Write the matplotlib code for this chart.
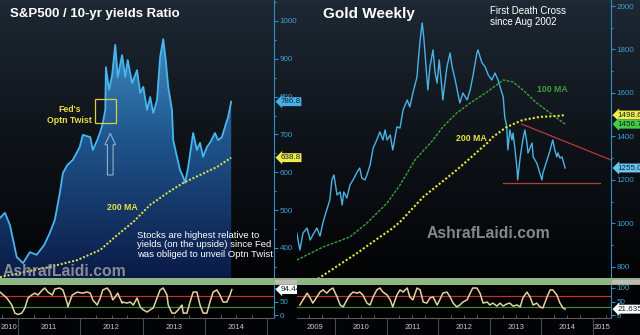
import numpy as np
import matplotlib
matplotlib.use("Agg")
import matplotlib.pyplot as plt
from matplotlib.colors import LinearSegmentedColormap
from matplotlib.patches import Rectangle, FancyArrow
from matplotlib.transforms import blended_transform_factory

plt.rcParams['font.family'] = ['Liberation Sans', 'DejaVu Sans']

# S&P500 / 10-yr yield ratio (fractional years)
ratio_t = [2010.71, 2010.79, 2010.87, 2010.98, 2011.08, 2011.19, 2011.30, 2011.42, 2011.51, 2011.59,
           2011.67, 2011.72, 2011.79, 2011.88, 2011.99, 2012.04, 2012.16, 2012.20, 2012.27, 2012.32,
           2012.36, 2012.40, 2012.41, 2012.46, 2012.51, 2012.56, 2012.60, 2012.67, 2012.72, 2012.76,
           2012.83, 2012.91, 2012.96, 2013.01, 2013.07, 2013.12, 2013.17, 2013.23, 2013.28, 2013.33,
           2013.37, 2013.41, 2013.47, 2013.49, 2013.55, 2013.60, 2013.65, 2013.68, 2013.73, 2013.81,
           2013.87, 2013.92, 2013.97, 2014.03, 2014.08, 2014.16, 2014.21, 2014.27, 2014.32, 2014.37,
           2014.42]
ratio_v = [479, 493, 461, 376, 360, 389, 382, 408, 440, 474,
           545, 598, 619, 633, 667, 699, 693, 659, 685, 707,
           730, 765, 878, 818, 857, 937, 852, 910, 852, 897,
           836, 870, 810, 826, 765, 799, 757, 791, 905, 952,
           897, 826, 765, 685, 641, 606, 588, 572, 614, 704,
           659, 678, 641, 667, 678, 704, 685, 693, 720, 746,
           786.8]
ratio_ma_t = [2010.71, 2011.03, 2011.51, 2011.95, 2012.32, 2012.59, 2012.85, 2013.12, 2013.39,
              2013.65, 2013.92, 2014.19, 2014.42]
ratio_ma_v = [323, 334, 350, 368, 395, 434, 469, 514, 545, 572, 593, 614, 638.8]

ratio_osc_t = [2010.71, 2010.82, 2010.90, 2010.95, 2011.00, 2011.06, 2011.11, 2011.16, 2011.22, 2011.27,
               2011.32, 2011.39, 2011.43, 2011.48, 2011.55, 2011.59, 2011.67, 2011.72, 2011.79, 2011.80,
               2011.87, 2011.95, 2012.03, 2012.11, 2012.16, 2012.20, 2012.27, 2012.32, 2012.36, 2012.43,
               2012.48, 2012.52, 2012.56, 2012.60, 2012.67, 2012.68, 2012.75, 2012.80, 2012.85, 2012.91,
               2012.96, 2013.01, 2013.07, 2013.12, 2013.17, 2013.23, 2013.28, 2013.33, 2013.39, 2013.41,
               2013.47, 2013.52, 2013.57, 2013.63, 2013.65, 2013.71, 2013.76, 2013.81, 2013.87, 2013.92,
               2013.97, 2014.03, 2014.08, 2014.13, 2014.19, 2014.24, 2014.29, 2014.35, 2014.40, 2014.43]
ratio_osc_v = [85, 63, 37, 7, 2, 7, 26, 63, 74, 81,
               74, 93, 100, 85, 74, 96, 100, 93, 44, 30,
               74, 85, 81, 85, 81, 56, 37, 63, 93, 100,
               85, 56, 67, 81, 44, 48, 44, 48, 37, 63,
               30, 19, 11, 19, 26, 63, 93, 100, 74, 37,
               7, 7, 19, 37, 7, 7, 48, 85, 85, 37,
               7, 7, 48, 85, 93, 74, 48, 48, 74, 94.44]

# Gold weekly close
gold_t = [2009.26, 2009.32, 2009.38, 2009.46, 2009.52, 2009.57, 2009.65, 2009.71, 2009.77, 2009.84,
          2009.90, 2009.94, 2009.98, 2010.04, 2010.10, 2010.14, 2010.17, 2010.23, 2010.29, 2010.35,
          2010.43, 2010.48, 2010.52, 2010.58, 2010.62, 2010.68, 2010.74, 2010.81, 2010.87, 2010.93,
          2010.97, 2011.01, 2011.07, 2011.12, 2011.20, 2011.26, 2011.32, 2011.40, 2011.45, 2011.51,
          2011.59, 2011.61, 2011.65, 2011.69, 2011.72, 2011.78, 2011.80, 2011.84, 2011.90, 2011.94,
          2011.98, 2012.02, 2012.07, 2012.09, 2012.13, 2012.17, 2012.23, 2012.27, 2012.33, 2012.38,
          2012.42, 2012.48, 2012.56, 2012.62, 2012.67, 2012.75, 2012.77, 2012.85, 2012.91, 2012.97,
          2013.04, 2013.10, 2013.16, 2013.20, 2013.26, 2013.29, 2013.33, 2013.35, 2013.39, 2013.43,
          2013.45, 2013.49, 2013.53, 2013.54, 2013.59, 2013.64, 2013.68, 2013.72, 2013.74, 2013.82,
          2013.84, 2013.91, 2013.97, 2014.01, 2014.03, 2014.11, 2014.17, 2014.22, 2014.26, 2014.30,
          2014.32, 2014.36, 2014.40, 2014.46]
gold_v = [956, 878, 956, 979, 924, 947, 979, 942, 1007, 1062,
          1108, 1200, 1223, 1131, 1145, 1085, 1145, 1117, 1177, 1200,
          1237, 1255, 1209, 1200, 1223, 1269, 1347, 1384, 1421, 1384,
          1430, 1384, 1407, 1338, 1444, 1439, 1522, 1568, 1536, 1600,
          1674, 1738, 1844, 1922, 1857, 1674, 1614, 1720, 1798, 1692,
          1646, 1752, 1628, 1568, 1646, 1720, 1784, 1720, 1660, 1600,
          1554, 1600, 1568, 1614, 1674, 1784, 1798, 1738, 1720, 1683,
          1660, 1692, 1660, 1628, 1582, 1490, 1444, 1338, 1430, 1384,
          1416, 1338, 1246, 1200, 1306, 1384, 1430, 1370, 1324, 1370,
          1306, 1278, 1232, 1200, 1232, 1292, 1338, 1384, 1338, 1306,
          1324, 1301, 1306, 1255.04]
gold_ma100_t = [2009.26, 2009.77, 2010.29, 2010.62, 2011.01, 2011.26, 2011.55, 2011.90, 2012.09,
                2012.36, 2012.62, 2012.95, 2013.26, 2013.45, 2013.64, 2013.91, 2014.17, 2014.46]
gold_ma100_v = [832, 892, 938, 1002, 1094, 1177, 1292, 1384, 1444,
                1508, 1554, 1605, 1660, 1651, 1614, 1554, 1508, 1456.7]
gold_ma200_t = [2009.60, 2010.43, 2010.87, 2011.07, 2011.26, 2011.71, 2012.36, 2012.95, 2013.06,
                2013.33, 2013.64, 2013.97, 2014.30, 2014.46]
gold_ma200_v = [735, 864, 938, 970, 1007, 1122, 1246, 1370, 1398, 1444, 1476, 1490, 1494, 1498.6]
trend_t = [2013.62, 2015.35]
trend_v = [1457, 1292]
support_t = [2013.26, 2015.14]
support_v = [1186, 1186]

gold_osc_t = [2009.32, 2009.38, 2009.46, 2009.52, 2009.57, 2009.65, 2009.71, 2009.77, 2009.84, 2009.90,
              2009.96, 2010.04, 2010.10, 2010.16, 2010.23, 2010.29, 2010.35, 2010.43, 2010.48, 2010.54,
              2010.62, 2010.68, 2010.74, 2010.81, 2010.87, 2010.93, 2011.01, 2011.07, 2011.12, 2011.20,
              2011.26, 2011.32, 2011.40, 2011.45, 2011.51, 2011.59, 2011.65, 2011.71, 2011.78, 2011.84,
              2011.90, 2011.98, 2012.03, 2012.09, 2012.17, 2012.23, 2012.29, 2012.36, 2012.42, 2012.48,
              2012.56, 2012.62, 2012.67, 2012.75, 2012.81, 2012.87, 2012.95, 2013.00, 2013.06, 2013.14,
              2013.20, 2013.26, 2013.33, 2013.39, 2013.45, 2013.53, 2013.59, 2013.64, 2013.72, 2013.78,
              2013.84, 2013.91, 2013.97, 2014.03, 2014.11, 2014.17, 2014.22, 2014.30, 2014.36, 2014.42,
              2014.46]
gold_osc_v = [37, 56, 81, 63, 44, 67, 85, 93, 81, 93,
              100, 67, 37, 30, 56, 74, 85, 81, 85, 74,
              44, 37, 67, 93, 100, 85, 74, 56, 30, 74,
              93, 85, 100, 67, 56, 100, 93, 48, 44, 63,
              67, 37, 56, 81, 85, 67, 44, 30, 37, 48,
              56, 81, 100, 100, 81, 44, 48, 37, 44, 33,
              44, 33, 41, 44, 33, 37, 30, 63, 85, 67,
              37, 44, 30, 26, 67, 93, 93, 74, 44, 26,
              21.6353]

left_years = ['2010', '2011', '2012', '2013', '2014']
left_year_pos = [2010.85, 2011.5, 2012.5, 2013.5, 2014.5]
right_years = ['2009', '2010', '2011', '2012', '2013', '2014', '2015']
right_year_pos = [2009.61, 2010.5, 2011.5, 2012.5, 2013.5, 2014.5, 2015.17]

W, H = 640, 335
AXIS_BLUE = '#2d8fc4'
TICK_BLUE = '#3d9fd3'


def rect(x0, y0, x1, y1):
    return [x0 / W, 1 - y1 / H, (x1 - x0) / W, (y1 - y0) / H]


fig = plt.figure(figsize=(6.4, 3.35), dpi=100, facecolor='black')

# dark slate-to-black backdrop
bg = fig.add_axes([0, 0, 1, 1], zorder=-10)
rows = np.clip(np.arange(H) / 278.0, 0, 1) ** 0.8
top = np.array([0x1f, 0x2a, 0x36]) / 255
bot = np.array([0.01, 0.012, 0.018])
grad = (top[None, :] * (1 - rows[:, None]) + bot[None, :] * rows[:, None])[:, None, :]
bg.imshow(grad, extent=[0, 1, 0, 1], aspect='auto')
bg.axis('off')


def style_main(ax, yticks, yminor, ylim, xlim):
    ax.set_facecolor('none')
    for s in ['left', 'top', 'bottom']:
        ax.spines[s].set_visible(False)
    ax.spines['right'].set_color(AXIS_BLUE)
    ax.yaxis.tick_right()
    ax.set_yticks(yticks)
    ax.set_yticks(yminor, minor=True)
    ax.tick_params(axis='y', which='both', direction='out', length=3, width=0.8,
                   color=AXIS_BLUE, labelcolor=TICK_BLUE, labelsize=5.8, pad=1)
    ax.tick_params(axis='y', which='minor', length=1.5)
    ax.set_xticks([])
    ax.set_xlim(*xlim)
    ax.set_ylim(*ylim)


def style_osc(ax, xlim, year_lo, year_hi, labels, label_pos):
    ax.set_facecolor('black')
    ax.spines['left'].set_visible(False)
    ax.spines['top'].set_visible(False)
    ax.spines['right'].set_color(AXIS_BLUE)
    ax.spines['bottom'].set_color('#5a5a5a')
    ax.yaxis.tick_right()
    ax.set_yticks([0, 50, 100])
    ax.tick_params(axis='y', direction='out', length=3, width=0.8, color=AXIS_BLUE,
                   labelcolor=TICK_BLUE, labelsize=5.8, pad=1)
    ax.set_xticks(np.arange(year_lo, year_hi + 1))
    ax.set_xticks(np.arange(year_lo - 1, year_hi + 1, 0.25), minor=True)
    ax.tick_params(axis='x', which='major', direction='out', length=12, width=0.8,
                   color='#4a4a4a', labelbottom=False)
    ax.tick_params(axis='x', which='minor', direction='in', length=2, width=0.6, color='#707070')
    ax.set_xlim(*xlim)
    ax.set_ylim(-11.1, 111.1)
    tr = blended_transform_factory(ax.transData, ax.transAxes)
    for lab, pos in zip(labels, label_pos):
        ax.text(pos, -0.30, lab, transform=tr, ha='center', va='center',
                fontsize=5.5, color='#c8c8c8', clip_on=False)
    ax.axhline(70, color='#c03030', lw=0.9)
    ax.axhline(30, color='#3a8a3a', lw=0.9)


def tag(ax, y, s, fc, tc='#102030'):
    tr = blended_transform_factory(ax.transAxes, ax.transData)
    ax.annotate(s, xy=(1, y), xycoords=tr, xytext=(4.5, 0), textcoords='offset points',
                ha='left', va='center', fontsize=5.8, color=tc, zorder=6, annotation_clip=False,
                bbox=dict(boxstyle='larrow,pad=0.12', fc=fc, ec='none'))


# ---- left: S&P500 / 10-yr yields ratio ----
xl = (2010.711, 2015.107)
yl = (320.7, 1055.5)
ax1 = fig.add_axes(rect(0, 0, 274, 278))
fill = ax1.fill_between(ratio_t, ratio_v, yl[0], color='none', lw=0)
blues = LinearSegmentedColormap.from_list('ratio_fill', ['#0a1a46', '#1f558c', '#4a9fd6'])
im = ax1.imshow(np.linspace(1, 0, 256).reshape(-1, 1), extent=[xl[0], xl[1], yl[0], yl[1]],
                aspect='auto', cmap=blues, zorder=1)
im.set_clip_path(fill.get_paths()[0], transform=ax1.transData)
ax1.plot(ratio_t, ratio_v, color='#47b6ee', lw=1.3, zorder=3)
ax1.plot(ratio_ma_t, ratio_ma_v, color='#e6e64a', lw=1.4, ls=(0, (1, 1)), zorder=3)
style_main(ax1, [400, 500, 600, 700, 800, 900, 1000], np.arange(350, 1051, 50), yl, xl)

ax1.text(0.036, 0.95, 'S&P500 / 10-yr yields Ratio', transform=ax1.transAxes, color='white',
         fontsize=9.5, fontweight='bold', ha='left', va='center')
ax1.add_patch(Rectangle((2012.24, 730), 0.33, 64, fill=False, ec='#d8d040', lw=0.9, zorder=4))
ax1.text(2011.83, 752, "Fed's\nOptn Twist", color='#e8e040', fontsize=6.3, fontweight='bold',
         ha='center', va='center', linespacing=1.3, zorder=4)
ax1.add_patch(FancyArrow(2012.48, 593, 0, 80, width=0.09, head_width=0.17, head_length=30,
                         length_includes_head=False, fill=False, ec='#8fb2cc', lw=0.8, zorder=4))
ax1.text(2012.68, 506, '200 MA', color='#e8e040', fontsize=6.3, fontweight='bold',
         ha='center', va='center', zorder=4)
ax1.text(2012.91, 408, 'Stocks are highest relative to\nyields (on the upside) since Fed\n'
         'was obliged to unveil Optn Twist', color='white', fontsize=6.8, ha='left', va='center',
         linespacing=1.12, zorder=4)
ax1.text(2011.74, 339, 'AshrafLaidi.com', color='#a8a8a8', alpha=0.8, fontsize=11.3,
         fontweight='bold', ha='center', va='center', zorder=4)
tag(ax1, 786.8, '786.8', '#49b1e6')
tag(ax1, 638.8, '638.8', '#f0ec48')

ax1i = fig.add_axes(rect(0, 285, 274, 318))
ax1i.plot(ratio_osc_t, ratio_osc_v, color='#e6d2a0', lw=1.1, zorder=3)
style_osc(ax1i, xl, 2011, 2015, left_years, left_year_pos)
tag(ax1i, 94.44, '94.44', 'white')

# ---- right: gold weekly ----
xr = (2009.264, 2015.349)
yr = (749.3, 2027.6)
ax2 = fig.add_axes(rect(297, 0, 611, 278))
ax2.plot(gold_t, gold_v, color='#49b3e6', lw=1.0, zorder=3)
ax2.plot(gold_ma100_t, gold_ma100_v, color='#3fa03f', lw=1.0, ls=(0, (2, 1)), zorder=3)
ax2.plot(gold_ma200_t, gold_ma200_v, color='#e6e63c', lw=1.5, ls=(0, (1, 1)), zorder=3)
ax2.plot(trend_t, trend_v, color='#b83a3a', lw=0.9, zorder=2)
ax2.plot(support_t, support_v, color='#b83a3a', lw=0.9, zorder=2)
style_main(ax2, np.arange(800, 2001, 200), np.arange(800, 2001, 100), yr, xr)

ax2.text(0.083, 0.95, 'Gold Weekly', transform=ax2.transAxes, color='white', fontsize=11,
         fontweight='bold', ha='left', va='center')
ax2.text(0.615, 0.942, 'First Death Cross\nsince Aug 2002', transform=ax2.transAxes,
         color='white', fontsize=7, ha='left', va='center', linespacing=1.15)
ax2.text(2014.22, 1614, '100 MA', color='#3aa03a', fontsize=6.3, fontweight='bold',
         ha='center', va='center', zorder=4)
ax2.text(2012.65, 1393, '200 MA', color='#e8e040', fontsize=6.3, fontweight='bold',
         ha='center', va='center', zorder=4)
ax2.text(2012.97, 956, 'AshrafLaidi.com', color='#a8a8a8', alpha=0.8, fontsize=11.3,
         fontweight='bold', ha='center', va='center', zorder=4)
tag(ax2, 1498.6, '1498.60', '#f0ec48')
tag(ax2, 1456.7, '1456.70', '#44cc44')
tag(ax2, 1255.04, '1255.04', '#6cc4ee')

ax2i = fig.add_axes(rect(297, 285, 611, 318))
ax2i.plot(gold_osc_t, gold_osc_v, color='#e6d2a0', lw=1.1, zorder=3)
style_osc(ax2i, xr, 2010, 2015, right_years, right_year_pos)
tag(ax2i, 21.6353, '21.6353', 'white')

# separator band between price and oscillator panes
fig.add_artist(Rectangle((0, 1 - 285 / H), 1, 7 / H, transform=fig.transFigure,
                         facecolor='#8db684', edgecolor='none', zorder=5))
for x0, x1 in [(275, 297), (612, 640)]:
    fig.add_artist(Rectangle((x0 / W, 1 - 284 / H), (x1 - x0) / W, 4 / H, transform=fig.transFigure,
                             facecolor='#c4b8b8', edgecolor='none', zorder=6))

fig.savefig('out.png', dpi=100, facecolor=fig.get_facecolor())
